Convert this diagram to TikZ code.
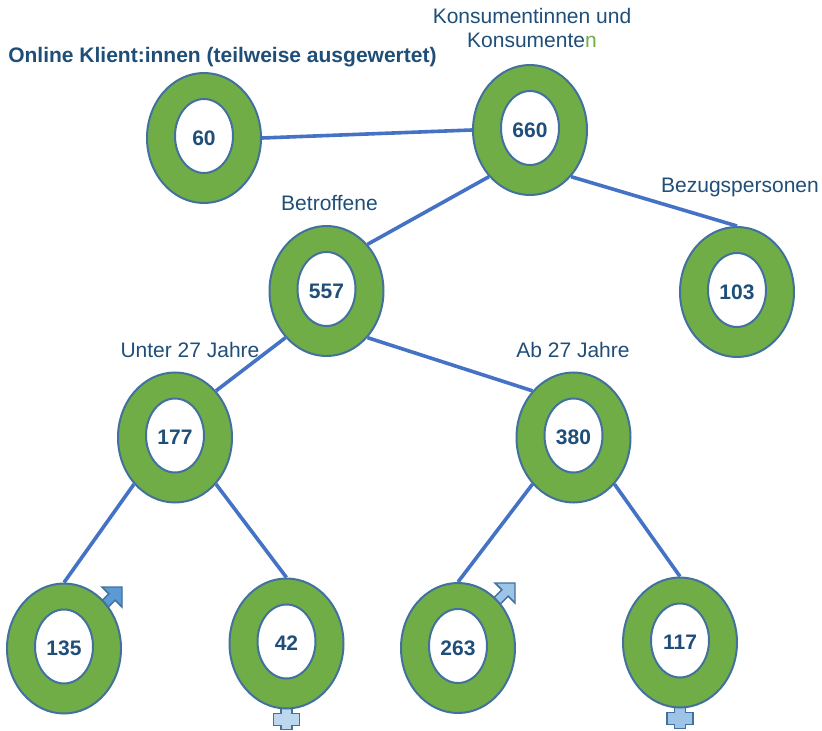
\documentclass[tikz,border=0pt]{standalone}
\usepackage{fontspec}
\setmainfont{Liberation Sans}
\usepackage{xcolor}
\usepackage{tikz}
\usetikzlibrary{shapes,shapes.geometric}
\usetikzlibrary{backgrounds}

\definecolor{ringgreen}{HTML}{70AD47}
\definecolor{ringline}{HTML}{41719C}
\definecolor{linkblue}{HTML}{4472C4}
\definecolor{textblue}{HTML}{1F4E79}
\definecolor{maledark}{HTML}{5B9BD5}
\definecolor{malelight}{HTML}{9DC3E6}
\definecolor{crosslight}{HTML}{BDD7EE}
\definecolor{crossmid}{HTML}{9DC3E6}

\tikzset{
  ring/.style={draw=ringline, line width=1.5pt, fill=ringgreen, ellipse,
    minimum width=85.5pt, minimum height=97.5pt, inner sep=0pt,
    text=textblue, font=\fontsize{15.75pt}{18pt}\selectfont\bfseries,
    path picture={\draw[ringline, line width=1.5pt, fill=white]
      ([yshift=1.5pt]path picture bounding box.center)
      ellipse [x radius=21.75pt, y radius=27.75pt];}},
  lbl/.style={inner sep=0pt, text=textblue, font=\fontsize{15.75pt}{18pt}\selectfont},
  link/.style={linkblue, line width=2.7pt},
  pics/male/.style={code={
    \path[draw=ringline, line width=1.1pt, fill=#1] (0,0) -- (0,20) -- (-6.8,13.2)
      -- (-20.8,27.2) -- (-27.2,20.8) -- (-13.2,6.8) -- (-20,0) -- cycle;
  }},
  pics/female/.style={code={
    \path[draw=ringline, line width=1.1pt, fill=#1] (-5.5,55) -- (5.5,55) -- (5.5,70)
      -- (13,70) -- (13,82) -- (5.5,82) -- (5.5,86) -- (-5.5,86) -- (-5.5,82)
      -- (-13,82) -- (-13,70) -- (-5.5,70) -- cycle;
  }}
}

\begin{document}
\begin{tikzpicture}[x=0.75pt, y=-0.75pt]
\useasboundingbox (0,0) rectangle (822,731);

% rings
\node[ring] (o) at (204,138) {60};
\node[ring] (k) at (530,130) {660};
\node[ring] (b) at (326.5,291) {557};
\node[ring] (bz) at (737,292) {103};
\node[ring] (u) at (175,437.5) {177};
\node[ring] (ab) at (573.5,437.5) {380};
\node[ring] (m1) at (64,648.5) {135};
\node[ring] (f1) at (286.5,643.5) {42};
\node[ring] (m2) at (458,648) {263};
\node[ring] (f2) at (680,642.5) {117};

% labels
\node[lbl, anchor=base west, font=\fontsize{15.75pt}{18pt}\selectfont\bfseries] (lo) at (8,63) {Online Klient:innen (teilweise ausgewertet)};
\node[lbl, anchor=north, align=center] (lk) at (532,8) {Konsumentinnen und\\Konsumente\textcolor{ringgreen}{n}};
\node[lbl, anchor=base] (lb) at (329.5,211) {Betroffene};
\node[lbl, anchor=base] (lbz) at (740,193) {Bezugspersonen};
\node[lbl, anchor=base] (lu) at (190,358) {Unter 27 Jahre};
\node[lbl, anchor=base] (lab) at (573,358) {Ab 27 Jahre};

% links
\path[draw] [link] (o.east) -- (k.west);
\path[draw] [link] (k.south west) -- (b.north east);
\path[draw] [link] (k.south east) -- (bz.north);
\path[draw] [link] (b.south west) -- (u.north east);
\path[draw] [link] (b.south east) -- (ab.north west);
\path[draw] [link] (u.south west) -- (m1.north);
\path[draw] [link] (u.south east) -- (f1.north);
\path[draw] [link] (ab.south west) -- (m2.north);
\path[draw] [link] (ab.south east) -- (f2.north);

% symbols
\begin{scope}[on background layer]
\pic at ([shift={(58,-61.5)}]m1.center) {male=maledark};
\pic at ([shift={(57,-65)}]m2.center) {male=malelight};
\pic at (f1.center) {female=crosslight};
\pic at (f2.center) {female=crossmid};
\end{scope}

\end{tikzpicture}
\end{document}
